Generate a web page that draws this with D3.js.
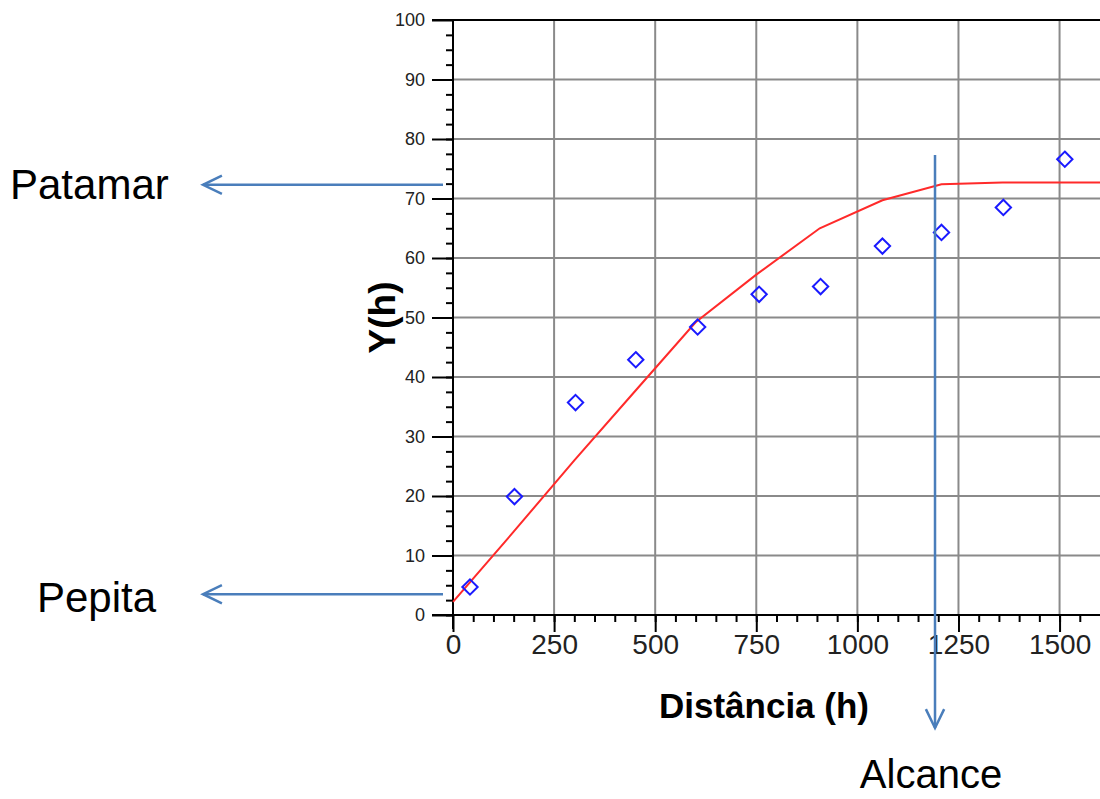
<!DOCTYPE html>
<html>
<head>
<meta charset="utf-8">
<script src="https://cdn.jsdelivr.net/npm/d3@7"></script>
<style>
	body { margin: 0; background: #fff; }
	svg { display: block; }
</style>
</head>
<body>
<svg width="1100" height="799"></svg>
<script>
// experimental variogram points (lag distance, semivariance)
var distPontos = [42, 152, 303, 452, 605, 757, 909, 1062, 1208, 1361, 1513];
var yPontos = [4.7, 19.9, 35.7, 42.9, 48.4, 53.9, 55.2, 62.0, 64.3, 68.5, 76.6];

// fitted model line
var distModelo = [0, 150, 300, 450, 600, 750, 907, 1062, 1208, 1359, 1600];
var yModelo = [2.2, 14.0, 26.0, 37.6, 49.2, 57.2, 65.0, 69.7, 72.4, 72.7, 72.7];

// tick labels
var xTicks = [0, 250, 500, 750, 1000, 1250, 1500];
var yTicks = [0, 10, 20, 30, 40, 50, 60, 70, 80, 90, 100];

// annotations: patamar (sill), pepita (nugget), alcance (range)
var patamar = 72.3, pepita = 3.5, alcance = 1192;

var svg = d3.select("svg");

var margin = {top: 20, left: 453, bottom: 184},
	width = +svg.attr("width") - margin.left,
	height = +svg.attr("height") - margin.top - margin.bottom;

var x = d3.scaleLinear().domain([0, 1600]).range([0, width]);
var y = d3.scaleLinear().domain([0, 100]).range([height, 0]);

var g = svg.append("g").attr("transform", "translate(" + margin.left + "," + margin.top + ")");

// the screenshot is cut just under the x labels
svg.append("clipPath").attr("id", "corte")
	.append("rect")
	.attr("x", -margin.left).attr("y", -margin.top)
	.attr("width", 1100).attr("height", 655);

// grid lines
g.append("g").selectAll("line")
	.data(xTicks.slice(1))
	.enter().append("line")
	.attr("x1", function(d) { return x(d); })
	.attr("x2", function(d) { return x(d); })
	.attr("y1", 0).attr("y2", height)
	.attr("stroke", "#8a8a8a").attr("stroke-width", 2);

g.append("g").selectAll("line")
	.data(yTicks.slice(1, -1))
	.enter().append("line")
	.attr("x1", 0).attr("x2", width)
	.attr("y1", function(d) { return y(d); })
	.attr("y2", function(d) { return y(d); })
	.attr("stroke", "#8a8a8a").attr("stroke-width", 2);

// top frame line
g.append("line")
	.attr("x1", -21).attr("x2", width)
	.attr("y1", y(100)).attr("y2", y(100))
	.attr("stroke", "#000").attr("stroke-width", 2);

// y axis, major and minor ticks
g.append("g")
	.attr("class", "axis")
	.call(d3.axisLeft(y).tickValues(d3.range(0, 100, 2.5)).tickSize(7).tickFormat(""))
	.call(function(a) { a.select(".domain").remove(); })
	.selectAll("line").attr("stroke-width", 2);

var yAxis = g.append("g")
	.attr("class", "axis")
	.call(d3.axisLeft(y).tickValues(yTicks).tickSize(21).tickPadding(7))
	.attr("font-family", "Liberation Sans, Arial, sans-serif")
	.attr("font-size", 18);
yAxis.select(".domain").attr("stroke-width", 2).attr("d", "M0,0V" + (height + 14));
yAxis.selectAll("line").attr("stroke-width", 2);
yAxis.selectAll("text").attr("fill", "#222");

// x axis, major and minor ticks
g.append("g")
	.attr("transform", "translate(0," + height + ")")
	.call(d3.axisBottom(x).tickValues(d3.range(50, 1600, 50)).tickSize(7).tickFormat(""))
	.call(function(a) { a.select(".domain").remove(); })
	.selectAll("line").attr("stroke-width", 2);

var xAxis = g.append("g")
	.attr("transform", "translate(0," + height + ")")
	.attr("clip-path", "url(#corte)")
	.call(d3.axisBottom(x).tickValues(xTicks).tickFormat(d3.format("d")).tickSize(17).tickPadding(2))
	.attr("font-family", "Liberation Sans, Arial, sans-serif")
	.attr("font-size", 28);
xAxis.select(".domain").attr("stroke-width", 2).attr("d", "M-21,0H" + width);
xAxis.selectAll("line").attr("stroke-width", 2);
xAxis.selectAll("text").attr("fill", "#222");

// model line
var line = d3.line()
	.x(function(d, i) { return x(distModelo[i]); })
	.y(function(d) { return y(d); });

g.append("path")
	.datum(yModelo)
	.attr("d", line)
	.attr("fill", "none")
	.attr("stroke", "#ff2a2a")
	.attr("stroke-width", 2);

// experimental points as hollow diamonds
g.append("g").selectAll("path")
	.data(yPontos)
	.enter().append("path")
	.attr("d", d3.symbol().type(d3.symbolDiamond2).size(150))
	.attr("transform", function(d, i) { return "translate(" + x(distPontos[i]) + "," + y(d) + ")"; })
	.attr("fill", "none")
	.attr("stroke", "#1a1aff")
	.attr("stroke-width", 2);

// axis titles
g.append("text")
	.attr("transform", "translate(" + (-71) + "," + y(50) + ") rotate(-90)")
	.attr("text-anchor", "middle")
	.attr("dy", "0.35em")
	.attr("font-family", "Liberation Sans, Arial, sans-serif")
	.attr("font-weight", "bold")
	.attr("font-size", 37)
	.text("Y(h)");

svg.append("text")
	.attr("x", 764).attr("y", 718)
	.attr("text-anchor", "middle")
	.attr("font-family", "Liberation Sans, Arial, sans-serif")
	.attr("font-weight", "bold")
	.attr("font-size", 35)
	.text("Distância (h)");

// annotation arrows
var azul = "#4a7ebb";

function seta(x1, y1, x2, y2) {
	var a = Math.atan2(y2 - y1, x2 - x1), s = 21, t = 0.45;
	svg.append("line")
		.attr("x1", x1).attr("y1", y1).attr("x2", x2).attr("y2", y2)
		.attr("stroke", azul).attr("stroke-width", 2.5);
	svg.append("path")
		.attr("d", "M" + (x2 - s * Math.cos(a - t)) + "," + (y2 - s * Math.sin(a - t)) +
			"L" + x2 + "," + y2 +
			"L" + (x2 - s * Math.cos(a + t)) + "," + (y2 - s * Math.sin(a + t)))
		.attr("fill", "none").attr("stroke", azul).attr("stroke-width", 2.5);
}

seta(margin.left - 10, margin.top + y(patamar), 203, margin.top + y(patamar));
seta(margin.left - 10, margin.top + y(pepita), 203, margin.top + y(pepita));
seta(margin.left + x(alcance), margin.top + y(77.3), margin.left + x(alcance), 728);

var rotulos = svg.append("g")
	.attr("font-family", "Liberation Sans, Arial, sans-serif")
	.attr("font-size", 42)
	.attr("fill", "#000");

rotulos.append("text").attr("x", 10).attr("y", margin.top + y(patamar) + 14).text("Patamar");
rotulos.append("text").attr("x", 37).attr("y", margin.top + y(pepita) + 18).text("Pepita");
rotulos.append("text").attr("x", 931).attr("y", 788).attr("font-size", 40)
	.attr("text-anchor", "middle").text("Alcance");
</script>
</body>
</html>
